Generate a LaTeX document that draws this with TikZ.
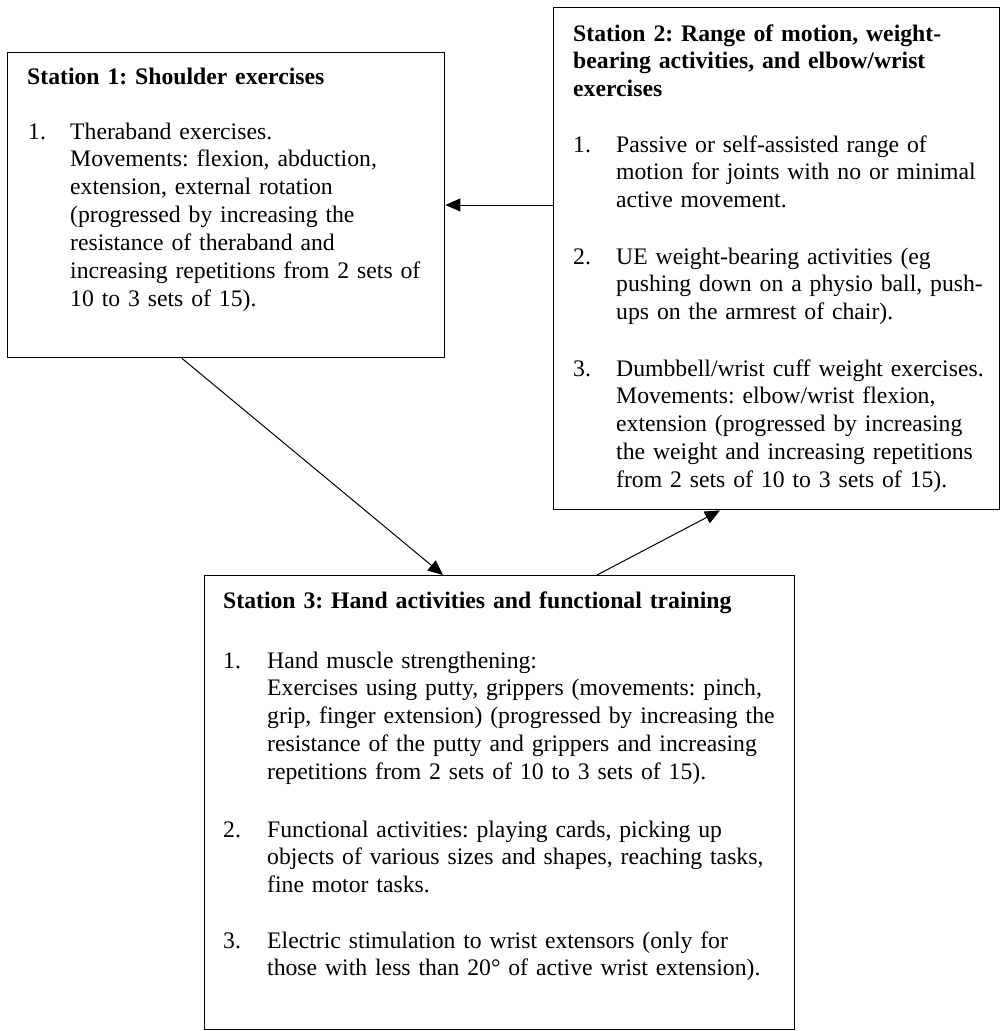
\documentclass[tikz,border=0pt]{standalone}
\usepackage{fontspec}
\setmainfont{Liberation Serif}
\usetikzlibrary{arrows.meta}
\frenchspacing

\newcommand{\stationfont}{\fontsize{23.7}{27.9}\selectfont}

\begin{document}
\begin{tikzpicture}[x=1pt, y=-1pt,
		box/.style={draw, line width=1.4pt, anchor=north west, inner sep=0pt},
		head/.style={anchor=base west, inner sep=0pt, font=\stationfont\bfseries, text width=580pt, align=left},
		num/.style={anchor=base west, inner sep=0pt, font=\stationfont},
		item/.style={anchor=base west, inner sep=0pt, font=\stationfont, text width=540pt, align=left},
		link/.style={line width=1pt, -{Triangle[length=15pt, width=13pt]}}]
		
		\useasboundingbox (0,0) rectangle (1002,1031);
		
		% Station 1
		\node[box, minimum width=437pt, minimum height=305pt] (st1) at (7,52) {};
		\node[head] (h1) at (27,84) {Station 1: Shoulder exercises};
		\node[num] (n11) at (28,139) {1.};
		\node[item] (i11) at (70,139) {Theraband exercises.\\
			Movements: flexion, abduction,\\
			extension, external rotation\\
			(progressed by increasing the\\
			resistance of theraband and\\
			increasing repetitions from 2 sets of\\
			10 to 3 sets of 15).};
		
		% Station 2
		\node[box, minimum width=446pt, minimum height=502pt] (st2) at (553,7) {};
		\node[head] (h2) at (573,41) {Station 2: Range of motion, weight-\\
			bearing activities, and elbow/wrist\\
			exercises};
		\node[num] (n21) at (573,152) {1.};
		\node[item] (i21) at (616,152) {Passive or self-assisted range of\\
			motion for joints with no or minimal\\
			active movement.};
		\node[num] (n22) at (573,264) {2.};
		\node[item] (i22) at (616,264) {UE weight-bearing activities (eg\\
			pushing down on a physio ball, push-\\
			ups on the armrest of chair).};
		\node[num] (n23) at (573,376) {3.};
		\node[item] (i23) at (616,376) {Dumbbell/wrist cuff weight exercises.\\
			Movements: elbow/wrist flexion,\\
			extension (progressed by increasing\\
			the weight and increasing repetitions\\
			from 2 sets of 10 to 3 sets of 15).};
		
		% Station 3
		\node[box, minimum width=590pt, minimum height=454pt] (st3) at (204,575) {};
		\node[head] (h3) at (223,608) {Station 3: Hand activities and functional training};
		\node[num] (n31) at (223,668) {1.};
		\node[item] (i31) at (267,668) {Hand muscle strengthening:\\
			Exercises using putty, grippers (movements: pinch,\\
			grip, finger extension) (progressed by increasing the\\
			resistance of the putty and grippers and increasing\\
			repetitions from 2 sets of 10 to 3 sets of 15).};
		\node[num] (n32) at (223,837) {2.};
		\node[item] (i32) at (267,837) {Functional activities: playing cards, picking up\\
			objects of various sizes and shapes, reaching tasks,\\
			fine motor tasks.};
		\node[num] (n33) at (223,948) {3.};
		\node[item] (i33) at (267,948) {Electric stimulation to wrist extensors (only for\\
			those with less than 20° of active wrist extension).};
		
		% Arrows between stations
		\draw[link] (st2.west |- 0,205) -- (st1.east |- 0,205);
		\draw[link] (st1.south -| 182,0) -- (st3.north -| 443,0);
		\draw[link] (st3.north -| 597,0) -- (st2.south -| 720,0);
		
\end{tikzpicture}
\end{document}
